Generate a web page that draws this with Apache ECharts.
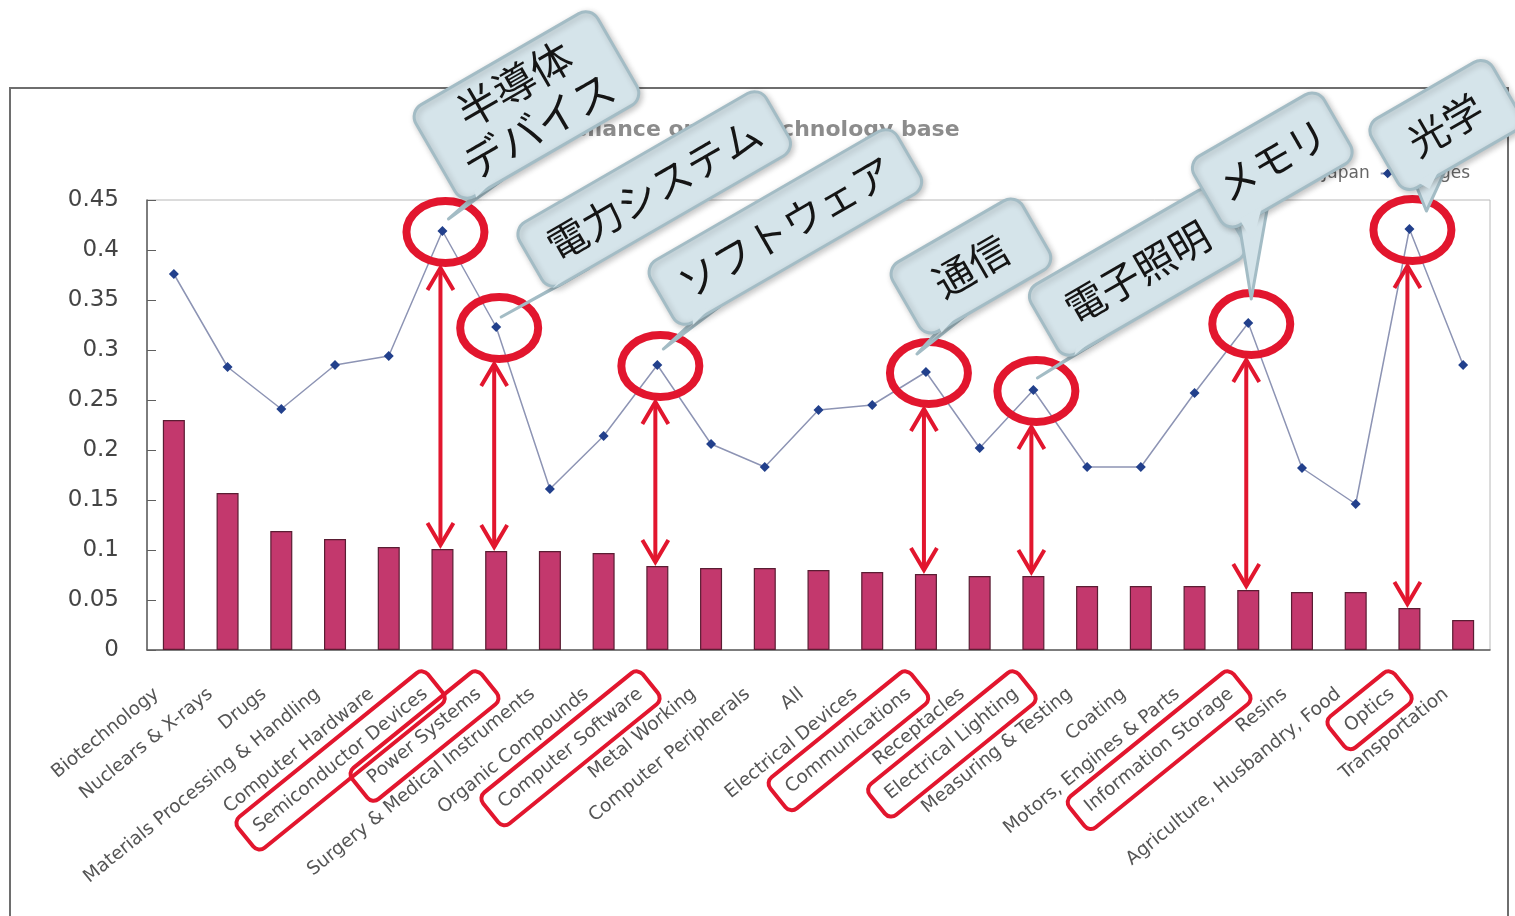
<!DOCTYPE html>
<html>
<head>
<meta charset="utf-8">
<script src="https://cdn.jsdelivr.net/npm/echarts@6/dist/echarts.min.js"></script>
<style>
  html, body { margin: 0; padding: 0; background: #ffffff; }
  #chart { width: 1515px; height: 916px; }
</style>
</head>
<body>
<div id="chart"></div>
<script>
// ---- data -------------------------------------------------------------
const categories = [
  'Biotechnology', 'Nuclears & X-rays', 'Drugs', 'Materials Processing & Handling', 'Computer Hardware',
  'Semiconductor Devices', 'Power Systems', 'Surgery & Medical Instruments', 'Organic Compounds', 'Computer Software',
  'Metal Working', 'Computer Peripherals', 'All', 'Electrical Devices', 'Communications',
  'Receptacles', 'Electrical Lighting', 'Measuring & Testing', 'Coating', 'Motors, Engines & Parts',
  'Information Storage', 'Resins', 'Agriculture, Husbandry, Food', 'Optics', 'Transportation'
];
const barValues = [
  0.230, 0.157, 0.119, 0.111, 0.103,
  0.101, 0.099, 0.099, 0.097, 0.084,
  0.082, 0.082, 0.080, 0.078, 0.076,
  0.074, 0.074, 0.064, 0.064, 0.064,
  0.060, 0.058, 0.058, 0.042, 0.030
];
const lineValues = [
  0.376, 0.283, 0.241, 0.285, 0.294,
  0.419, 0.323, 0.161, 0.214, 0.285,
  0.206, 0.183, 0.240, 0.245, 0.278,
  0.202, 0.260, 0.183, 0.183, 0.257,
  0.327, 0.182, 0.146, 0.421, 0.285
];
const yAxisMin = 0;
const yAxisMax = 0.45;
const yAxisStep = 0.05;

const seriesNames = ['Share in Japan', 'linkages'];
const chartTitle = 'Reliance on the technology base';

// highlighted fields and their callout captions
const highlightCategories = [
  'Semiconductor Devices', 'Power Systems', 'Computer Software', 'Communications',
  'Electrical Lighting', 'Information Storage', 'Optics'
];
const calloutTexts = ['半導体\nデバイス', '電力システム', 'ソフトウェア', '通信', '電子照明', 'メモリ', '光学'];

// ---- callout placement (pixel offsets from the marked point) ----------
const calloutLayout = [
  { dx: 84,  dy: -126, w: 210, h: 106, tx: 6,  ty: -12 },
  { dx: 158, dy: -138, w: 285, h: 72,  tx: 5,  ty: -10 },
  { dx: 128, dy: -138, w: 285, h: 72,  tx: 6,  ty: -16 },
  { dx: 45,  dy: -106, w: 150, h: 80,  tx: -9, ty: -18 },
  { dx: 104, dy: -118, w: 215, h: 80,  tx: 4,  ty: -12 },
  { dx: 24,  dy: -163, w: 150, h: 80,  tx: 3,  ty: -24 },
  { dx: 36,  dy: -104, w: 140, h: 80,  tx: 17, ty: -18 }
];

// ---- style constants --------------------------------------------------
const RED = '#e2162e';
const BUBBLE_FILL = '#d5e4ea';
const BUBBLE_EDGE = '#a3bcc5';
const LABEL_FONT_SIZE = 18.5;
const LABEL_FONT = '"DejaVu Sans", Verdana, sans-serif';
const LABEL_ROTATE = 39;
const LABEL_MARGIN = 28;
const LABEL_PAD_RIGHT = 22;
const BUBBLE_ANGLE = 30 * Math.PI / 180;

const measureCtx = document.createElement('canvas').getContext('2d');
function textWidth(t) {
  measureCtx.font = LABEL_FONT_SIZE + 'px "DejaVu Sans"';
  return measureCtx.measureText(t).width;
}

const highlightIdx = highlightCategories.map(c => categories.indexOf(c));
const markData = highlightIdx.map(i => [i, lineValues[i], barValues[i]]);
const calloutData = highlightIdx.map((i, k) => [i, lineValues[i], k]);

// red rings, double arrows and boxed axis labels
function renderMarks(params, api) {
  const i = api.value(0);
  const p = api.coord([i, api.value(1)]);
  const b = api.coord([i, api.value(2)]);
  const o = api.coord([i, 0]);
  const children = [];

  children.push({
    type: 'ellipse',
    shape: { cx: p[0] + 3, cy: p[1] + 1, rx: 39, ry: 31 },
    style: { fill: 'none', stroke: RED, lineWidth: 8 }
  });

  const x = p[0] - 2;
  const y1 = p[1] + 37;
  const y2 = b[1] - 4;
  const arrowStyle = { fill: 'none', stroke: RED, lineWidth: 4, lineJoin: 'miter' };
  children.push({ type: 'line', shape: { x1: x, y1: y1, x2: x, y2: y2 }, style: { stroke: RED, lineWidth: 4 } });
  children.push({ type: 'polyline', shape: { points: [[x - 13, y1 + 22], [x, y1], [x + 13, y1 + 22]] }, style: arrowStyle });
  children.push({ type: 'polyline', shape: { points: [[x - 13, y2 - 22], [x, y2], [x + 13, y2 - 22]] }, style: arrowStyle });

  const th = LABEL_ROTATE * Math.PI / 180;
  const w = textWidth(categories[i]);
  const ax = o[0];
  const ay = o[1] + LABEL_MARGIN;
  const d = LABEL_PAD_RIGHT + w / 2;
  const cx = ax - d * Math.cos(th);
  const cy = ay + d * Math.sin(th);
  children.push({
    type: 'rect',
    x: cx, y: cy, rotation: th,
    shape: { x: -(w / 2 + 13), y: -20, width: w + 26, height: 40, r: 8 },
    style: { fill: 'none', stroke: RED, lineWidth: 4 }
  });

  return { type: 'group', children: children };
}

// speech bubbles with captions
function renderCallout(params, api) {
  const i = api.value(0);
  const k = api.value(2);
  const p = api.coord([i, api.value(1)]);
  const L = calloutLayout[k];
  const cx = p[0] + L.dx;
  const cy = p[1] + L.dy;
  const c = Math.cos(BUBBLE_ANGLE), s = Math.sin(BUBBLE_ANGLE);
  const toScreen = (lx, ly) => [cx + lx * c + ly * s, cy - lx * s + ly * c];
  const b1 = toScreen(-L.w / 2 + 14, L.h / 2);
  const b2 = toScreen(-L.w / 2 + 46, L.h / 2);
  const tip = [p[0] + L.tx, p[1] + L.ty];
  const b1i = toScreen(-L.w / 2 + 17, L.h / 2 - 5);
  const b2i = toScreen(-L.w / 2 + 43, L.h / 2 - 5);
  const bm = [(b1[0] + b2[0]) / 2, (b1[1] + b2[1]) / 2];
  const mid = [bm[0] * 0.7 + tip[0] * 0.3, bm[1] * 0.7 + tip[1] * 0.3];

  return {
    type: 'group',
    children: [
      {
        type: 'polygon',
        shape: { points: [b1, tip, b2] },
        style: { fill: BUBBLE_FILL, stroke: BUBBLE_EDGE, lineWidth: 3, lineJoin: 'round' }
      },
      {
        type: 'rect',
        x: cx, y: cy, rotation: BUBBLE_ANGLE,
        shape: { x: -L.w / 2, y: -L.h / 2, width: L.w, height: L.h, r: 14 },
        style: {
          fill: BUBBLE_FILL, stroke: BUBBLE_EDGE, lineWidth: 3,
          shadowBlur: 6, shadowColor: 'rgba(0,0,0,0.22)', shadowOffsetX: 2, shadowOffsetY: 2
        }
      },
      {
        type: 'polygon',
        shape: { points: [b1i, b2i, mid] },
        style: { fill: BUBBLE_FILL }
      },
      {
        type: 'text',
        x: cx, y: cy, rotation: BUBBLE_ANGLE,
        style: {
          text: calloutTexts[k],
          fontSize: k === 0 ? 42 : 40,
          fontFamily: '"Noto Sans CJK JP", sans-serif',
          fill: '#151515',
          align: 'center',
          verticalAlign: 'middle',
          lineHeight: 48
        }
      }
    ]
  };
}

const chart = echarts.init(document.getElementById('chart'), null, { renderer: 'canvas' });

chart.setOption({
  backgroundColor: '#ffffff',
  animation: false,
  title: {
    text: chartTitle,
    left: 'center',
    top: 114,
    textStyle: { fontSize: 22, fontWeight: 'bold', color: '#8c8c8c', fontFamily: LABEL_FONT }
  },
  legend: {
    data: seriesNames,
    right: 40,
    top: 160,
    itemGap: 10,
    itemWidth: 14,
    itemHeight: 12,
    textStyle: { fontSize: 17, color: '#666', fontFamily: LABEL_FONT }
  },
  graphic: [
    {
      type: 'rect',
      shape: { x: 10, y: 88, width: 1498, height: 900 },
      style: { fill: 'none', stroke: '#6e6e6e', lineWidth: 2 },
      z: -1
    }
  ],
  grid: {
    left: 147, top: 200, right: 25, bottom: 266,
    show: true, borderColor: '#b8b8b8', borderWidth: 1, backgroundColor: 'transparent'
  },
  xAxis: {
    type: 'category',
    data: categories,
    axisLine: { lineStyle: { color: '#5e5e5e', width: 1.5 } },
    axisTick: { inside: true, length: 6, lineStyle: { color: '#5e5e5e' } },
    axisLabel: {
      interval: 0,
      rotate: LABEL_ROTATE,
      margin: LABEL_MARGIN,
      padding: [0, LABEL_PAD_RIGHT, 0, 0],
      fontSize: LABEL_FONT_SIZE,
      fontFamily: LABEL_FONT,
      color: '#555'
    },
    splitLine: { show: false }
  },
  yAxis: {
    type: 'value',
    min: yAxisMin,
    max: yAxisMax,
    interval: yAxisStep,
    axisLine: { show: true, lineStyle: { color: '#5e5e5e', width: 1.5 } },
    axisTick: { show: true, inside: true, length: 9, lineStyle: { color: '#5e5e5e' } },
    axisLabel: {
      margin: 28,
      fontSize: 23,
      fontFamily: LABEL_FONT,
      color: '#444',
      formatter: v => String(+v.toFixed(2))
    },
    splitLine: { show: false }
  },
  series: [
    {
      name: seriesNames[0],
      type: 'bar',
      data: barValues,
      barWidth: '41%',
      itemStyle: { color: '#c3386d', borderColor: '#5a1d33', borderWidth: 1.2 },
      z: 2
    },
    {
      name: seriesNames[1],
      type: 'line',
      data: lineValues,
      symbol: 'diamond',
      symbolSize: 10,
      itemStyle: { color: '#22408c' },
      lineStyle: { color: '#8d94b4', width: 1.5 },
      z: 3
    },
    {
      type: 'custom',
      renderItem: renderMarks,
      data: markData,
      encode: { x: 0, y: 1 },
      clip: false,
      silent: true,
      z: 10
    },
    {
      type: 'custom',
      renderItem: renderCallout,
      data: calloutData,
      encode: { x: 0, y: 1 },
      clip: false,
      silent: true,
      z: 12
    }
  ]
});
</script>
</body>
</html>
